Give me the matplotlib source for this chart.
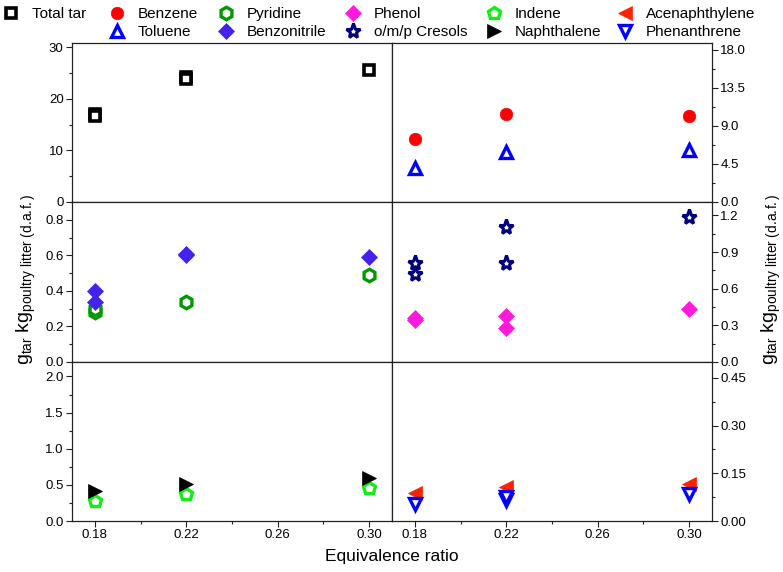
import matplotlib
matplotlib.use("Agg")
import matplotlib.pyplot as plt
from matplotlib.ticker import MultipleLocator, FormatStrFormatter
from matplotlib.lines import Line2D

plt.rcParams['font.family'] = ['Liberation Sans', 'DejaVu Sans']
plt.rcParams['mathtext.fontset'] = 'custom'
plt.rcParams['mathtext.rm'] = 'Liberation Sans'
plt.rcParams['mathtext.it'] = 'Liberation Sans:italic'

# ---- data ----
x_total = [0.18, 0.18, 0.22, 0.22, 0.30]
total_tar = [17.0, 16.6, 24.3, 23.8, 25.6]

x_benzene = [0.18, 0.22, 0.30]
benzene = [7.45, 10.45, 10.15]
x_toluene = [0.18, 0.22, 0.30]
toluene = [4.0, 5.95, 6.1]

x_pyridine = [0.18, 0.18, 0.22, 0.30]
pyridine = [0.28, 0.30, 0.34, 0.49]
x_benzonitrile = [0.18, 0.18, 0.22, 0.22, 0.30]
benzonitrile = [0.40, 0.335, 0.605, 0.60, 0.59]

x_cresols = [0.18, 0.18, 0.22, 0.22, 0.30]
cresols = [0.81, 0.72, 1.105, 0.81, 1.19]
x_phenol = [0.18, 0.18, 0.22, 0.22, 0.30]
phenol = [0.36, 0.34, 0.375, 0.28, 0.43]

x_naphthalene = [0.18, 0.22, 0.30]
naphthalene = [0.42, 0.51, 0.60]
x_indene = [0.18, 0.22, 0.30]
indene = [0.28, 0.38, 0.45]

x_acenaphthylene = [0.18, 0.22, 0.30]
acenaphthylene = [0.087, 0.106, 0.116]
x_phenanthrene = [0.18, 0.22, 0.22, 0.30]
phenanthrene = [0.053, 0.066, 0.075, 0.085]

x_ticks = [0.18, 0.22, 0.26, 0.30]

# ---- styles ----
sty = {
    'Total tar': dict(marker='s', ms=7, mfc='white', mec='black', mew=2.6),
    'Benzene': dict(marker='o', ms=9, mfc='#FF0000', mec='#FF0000', mew=0.5),
    'Toluene': dict(marker='^', ms=8, mfc='white', mec='#0000FF', mew=2.4),
    'Pyridine': dict(marker='h', ms=9, mfc='white', mec='#009900', mew=2.4),
    'Benzonitrile': dict(marker='D', ms=8, mfc='#4422EE', mec='#4422EE', mew=0.5),
    'Phenol': dict(marker='D', ms=8, mfc='#FF1ADB', mec='#FF1ADB', mew=0.5),
    'o/m/p Cresols': dict(marker='*', ms=11, mfc='white', mec='#000080', mew=2.2),
    'Indene': dict(marker='p', ms=9, mfc='white', mec='#11EE11', mew=2.4),
    'Naphthalene': dict(marker='>', ms=10, mfc='black', mec='black', mew=0.5),
    'Acenaphthylene': dict(marker='<', ms=10, mfc='#FF2200', mec='#FF2200', mew=0.5),
    'Phenanthrene': dict(marker='v', ms=8, mfc='white', mec='#0000FF', mew=2.4),
}

W, H = 783, 572
fig = plt.figure(figsize=(W / 100, H / 100), dpi=100)

def px_axes(x0, y0, x1, y1):
    return fig.add_axes([x0 / W, 1 - y1 / H, (x1 - x0) / W, (y1 - y0) / H])

rows = [(43, 202), (202, 362), (362, 521)]
cols = [(72, 392), (392, 712)]
axes = [[px_axes(c[0], r[0], c[1], r[1]) for c in cols] for r in rows]

ylims = [[(0, 30.8), (0, 18.8)], [(0, 0.9), (0, 1.31)], [(0, 2.2), (0, 0.5)]]
majors = [[10, 4.5], [0.2, 0.3], [0.5, 0.15]]
fmts = [['%d', '%.1f'], ['%.1f', '%.1f'], ['%.1f', '%.2f']]

for i in range(3):
    for j in range(2):
        ax = axes[i][j]
        ax.set_xlim(0.17, 0.31)
        ax.set_ylim(*ylims[i][j])
        ax.set_xticks(x_ticks)
        ax.xaxis.set_minor_locator(MultipleLocator(0.02))
        ax.yaxis.set_major_locator(MultipleLocator(majors[i][j]))
        ax.yaxis.set_minor_locator(MultipleLocator(majors[i][j] / 2))
        ax.yaxis.set_major_formatter(FormatStrFormatter(fmts[i][j]))
        for s in ax.spines.values():
            s.set_linewidth(0.9)
            s.set_color('#222222')
        ax.tick_params(which='both', direction='out', width=0.8, color='#222222',
                       labelsize=9.5, pad=2)
        ax.tick_params(which='major', length=4)
        ax.tick_params(which='minor', length=2.2)
        if j == 1:
            ax.yaxis.tick_right()
            ax.tick_params(axis='y', which='both', left=False, right=True)
        else:
            ax.tick_params(axis='y', which='both', left=True, right=False)
        ax.tick_params(axis='x', which='both', top=False, bottom=True,
                       labelbottom=(i == 2))
        ax.set_xticklabels(['0.18', '0.22', '0.26', '0.30'])

def pl(ax, x, y, name):
    ax.plot(x, y, linestyle='none', clip_on=False, zorder=3, **sty[name])

pl(axes[0][0], x_total, total_tar, 'Total tar')
pl(axes[0][1], x_benzene, benzene, 'Benzene')
pl(axes[0][1], x_toluene, toluene, 'Toluene')
pl(axes[1][0], x_pyridine, pyridine, 'Pyridine')
pl(axes[1][0], x_benzonitrile, benzonitrile, 'Benzonitrile')
pl(axes[1][1], x_cresols, cresols, 'o/m/p Cresols')
pl(axes[1][1], x_phenol, phenol, 'Phenol')
pl(axes[2][0], x_indene, indene, 'Indene')
pl(axes[2][0], x_naphthalene, naphthalene, 'Naphthalene')
pl(axes[2][1], x_acenaphthylene, acenaphthylene, 'Acenaphthylene')
pl(axes[2][1], x_phenanthrene, phenanthrene, 'Phenanthrene')

# ---- legend (six columns) ----
leg_cols = [['Total tar'], ['Benzene', 'Toluene'], ['Pyridine', 'Benzonitrile'],
            ['Phenol', 'o/m/p Cresols'], ['Indene', 'Naphthalene'],
            ['Acenaphthylene', 'Phenanthrene']]
leg_x = [11, 117, 226, 353, 494, 625]
fs_leg = 11
hl = 1.0
for names, mx in zip(leg_cols, leg_x):
    handles = [Line2D([], [], linestyle='none', **sty[n]) for n in names]
    anchor_x = mx - hl * fs_leg * 100 / 72 / 2
    fig.legend(handles, names, loc='upper left',
               bbox_to_anchor=(anchor_x / W, 1 - 7 / H),
               frameon=False, fontsize=fs_leg, handlelength=hl,
               handletextpad=0.85, borderpad=0, borderaxespad=0,
               labelspacing=0.28, numpoints=1)

# ---- axis labels ----
ylab = r'$\mathrm{g_{tar}\ kg_{poultry\ litter\ (d.\!a.\!f.)}}$'
fig.text(26 / W, 1 - 279 / H, ylab, rotation=90, ha='center', va='center', fontsize=14)
fig.text(771 / W, 1 - 279 / H, ylab, rotation=90, ha='center', va='center', fontsize=14)
fig.text(392 / W, 1 - 556 / H, 'Equivalence ratio', ha='center', va='center', fontsize=12.5)

fig.savefig('out.png', dpi=100)
